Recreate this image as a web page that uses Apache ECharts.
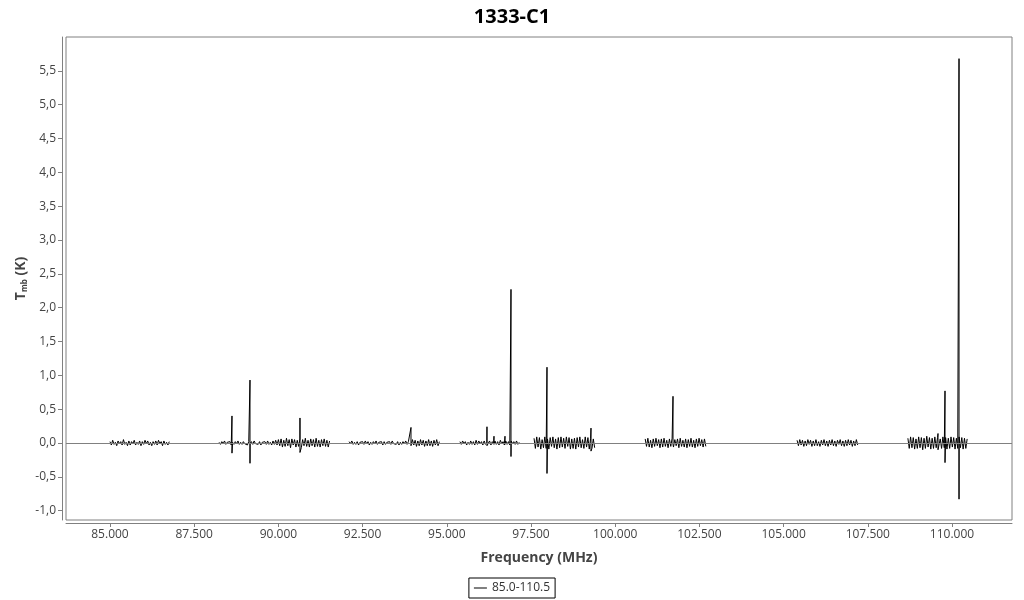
<!DOCTYPE html>
<html>
<head>
<meta charset="utf-8">
<script src="https://cdn.jsdelivr.net/npm/echarts@6/dist/echarts.min.js"></script>
<style>html,body{margin:0;padding:0;background:#fff;}#chart{width:1024px;height:600px;}</style>
</head>
<body>
<div id="chart"></div>
<script>
// Noise bands: start frequency (MHz), channel step (MHz), values (K)
var bandStarts = [85000, 88240, 92100, 95390, 97590, 100890, 105400, 108690];
var channelStep = 40;
var band1 = [0.02,-0.03,0.04,-0.02,0.01,-0.04,0.03,-0.01,0.02,-0.03,0.05,-0.02,0.01,-0.04,0.03,-0.03,0.02,-0.01,0.04,-0.03,0.01,-0.02,0.03,-0.04,0.02,-0.02,0.04,-0.01,0.03,-0.03,0.01,-0.04,0.02,-0.02,0.03,-0.03,0.04,-0.01,0.02,-0.04,0.03,-0.02,0.01,-0.03,0.02];
var band2 = [0.01,-0.02,0.02,-0.01,0.03,-0.02,0.01,-0.01,0.02,-0.03,0.01,-0.02,0.02,-0.01,0.03,-0.02,0.01,-0.02,0.02,-0.01,0.01,-0.03,0.02,-0.01,0.02,-0.02,0.03,-0.01,0.01,-0.02,0.02,-0.03,0.01,-0.01,0.02,-0.02,0.03,-0.02,0.01,-0.03,0.03,-0.02,0.04,-0.03,
  0.05,-0.04,0.06,-0.06,0.04,-0.05,0.07,-0.04,0.05,-0.07,0.06,-0.03,0.05,-0.06,0.04,-0.05,0.06,-0.07,0.05,-0.04,0.07,-0.05,0.04,-0.06,0.06,-0.04,0.05,-0.06,0.07,-0.05,0.04,-0.06,0.05,-0.04,0.06,-0.05,0.04,-0.06,0.03];
var band3 = [0.02,-0.01,0.03,-0.02,0.01,-0.02,0.02,-0.03,0.01,-0.01,0.02,-0.02,0.03,-0.01,0.02,-0.03,0.01,-0.02,0.02,-0.01,0.03,-0.02,0.01,-0.01,0.02,-0.03,0.02,-0.02,0.01,-0.01,0.02,-0.02,0.03,-0.01,0.01,-0.02,0.02,-0.03,0.01,-0.02,0.02,-0.01,0.03,-0.02,0.02,
  0.04,-0.05,0.05,-0.03,0.04,-0.05,0.03,-0.04,0.05,-0.03,0.04,-0.05,0.03,-0.04,0.05,-0.04,0.03,-0.05,0.04,-0.03,0.05,-0.04,0.02];
var band4 = [0.02,-0.02,0.03,-0.01,0.02,-0.03,0.01,-0.02,0.03,-0.02,0.02,-0.03,0.04,-0.02,0.03,-0.01,0.02,-0.03,0.03,-0.02,0.01,-0.02,0.03,-0.03,0.02,-0.01,0.03,-0.02,0.02,-0.03,0.04,-0.01,0.02,-0.03,0.03,-0.02,0.02,-0.03,0.03,-0.01,0.02,-0.02,0.03,-0.02,0.01];
var band5 = [0.07,-0.08,0.09,-0.06,0.08,-0.09,0.05,-0.07,0.09,-0.08,0.06,-0.09,0.08,-0.05,0.09,-0.07,0.06,-0.09,0.08,-0.07,0.09,-0.06,0.07,-0.08,0.09,-0.05,0.08,-0.09,0.06,-0.08,0.07,-0.09,0.08,-0.06,0.09,-0.07,0.05,-0.08,0.09,-0.06,0.08,-0.09,0.07,-0.08,0.06,-0.07];
var band6 = [0.06,-0.05,0.07,-0.06,0.04,-0.07,0.06,-0.05,0.07,-0.04,0.05,-0.07,0.06,-0.06,0.07,-0.05,0.04,-0.07,0.06,-0.05,0.07,-0.06,0.05,-0.04,0.06,-0.07,0.07,-0.05,0.04,-0.06,0.06,-0.07,0.05,-0.05,0.07,-0.06,0.04,-0.07,0.06,-0.05,0.07,-0.04,0.05,-0.06,0.06,-0.05];
var band7 = [0.04,-0.04,0.05,-0.03,0.04,-0.05,0.03,-0.04,0.05,-0.02,0.04,-0.05,0.03,-0.04,0.05,-0.04,0.02,-0.05,0.04,-0.03,0.05,-0.04,0.03,-0.05,0.04,-0.03,0.05,-0.04,0.03,-0.05,0.04,-0.02,0.05,-0.04,0.03,-0.05,0.04,-0.04,0.05,-0.03,0.04,-0.05,0.03,-0.04,0.05,-0.03];
var band8 = [0.07,-0.08,0.09,-0.07,0.08,-0.09,0.06,-0.08,0.09,-0.07,0.08,-0.10,0.07,-0.08,0.10,-0.06,0.08,-0.09,0.07,-0.08,0.09,-0.07,0.08,-0.09,0.06,-0.08,0.09,-0.07,0.08,-0.09,0.07,-0.08,0.09,-0.06,0.08,-0.09,0.07,-0.08,0.09,-0.07,0.08,-0.09,0.07,-0.08,0.06];
// Spectral lines (spikes)
var spikeFreq = [88622, 89157, 90641, 93937, 96193, 96401, 96728, 96906, 97975, 99281, 101716, 109584, 109792, 110208];
var spikeHigh = [0.40, 0.93, 0.37, 0.23, 0.24, 0.10, 0.10, 2.27, 1.12, 0.22, 0.69, 0.14, 0.77, 5.68];
var spikeLow  = [-0.15, -0.30, -0.14, -0.04, -0.04, -0.02, -0.02, -0.20, -0.45, -0.12, -0.02, -0.10, -0.29, -0.83];
// Axis ticks
var yTicks = [-1.0, -0.5, 0.0, 0.5, 1.0, 1.5, 2.0, 2.5, 3.0, 3.5, 4.0, 4.5, 5.0, 5.5];
var xTicks = [85000, 87500, 90000, 92500, 95000, 97500, 100000, 102500, 105000, 107500, 110000];

var bands = [band1, band2, band3, band4, band5, band6, band7, band8];
var data = [];
bands.forEach(function (vals, b) {
  var start = bandStarts[b];
  var end = start + (vals.length - 1) * channelStep;
  var pts = [];
  vals.forEach(function (v, i) { pts.push([start + i * channelStep, v, 0]); });
  spikeFreq.forEach(function (f, k) {
    if (f >= start && f <= end) {
      pts.push([f, spikeHigh[k], 1]);
      pts.push([f, spikeLow[k], 2]);
    }
  });
  pts.sort(function (a, b2) { return a[0] - b2[0] || a[2] - b2[2]; });
  pts.forEach(function (p) { data.push([p[0], p[1]]); });
  if (b < bands.length - 1) data.push([end + 1, '-']);
});

var chart = echarts.init(document.getElementById('chart'), null, {renderer: 'canvas'});
var axisGrey = '#808080';
chart.setOption({
  animation: false,
  backgroundColor: '#fff',
  title: {
    text: '1333-C1', left: 'center', top: 2,
    textStyle: {fontFamily: 'Open Sans', fontWeight: 'bold', fontSize: 20, color: '#000'}
  },
  legend: {
    bottom: 2, left: 'center',
    borderColor: '#000', borderWidth: 1, padding: [4, 5],
    itemWidth: 13, itemHeight: 1, itemGap: 5, icon: 'rect',
    textStyle: {fontFamily: 'Open Sans', fontSize: 12, color: '#333'},
    data: ['85.0-110.5']
  },
  grid: {
    left: 66, right: 12, top: 37, bottom: 80,
    show: true, borderColor: axisGrey, borderWidth: 1, backgroundColor: 'transparent'
  },
  xAxis: {
    type: 'value', min: 83694, max: 111781, offset: 3,
    name: 'Frequency (MHz)', nameLocation: 'middle', nameGap: 28, nameMoveOverlap: false,
    nameTextStyle: {fontFamily: 'Open Sans', fontWeight: 'bold', fontSize: 14, color: '#444'},
    axisLine: {show: true, onZero: false, lineStyle: {color: axisGrey}},
    axisTick: {show: true, length: 4, lineStyle: {color: axisGrey}, customValues: xTicks},
    axisLabel: {
      customValues: xTicks, margin: 6,
      fontFamily: 'Open Sans', fontSize: 12, color: '#444',
      formatter: function (v) { return (v / 1000).toFixed(3); }
    },
    splitLine: {show: false}
  },
  yAxis: {
    type: 'value', min: -1.138, max: 6.0, offset: 4,
    name: '{b|T}{s|mb}{b| (K)}', nameLocation: 'middle', nameGap: 33, nameRotate: 90, nameMoveOverlap: false,
    nameTextStyle: {
      rich: {
        b: {fontFamily: 'Open Sans', fontWeight: 'bold', fontSize: 14, color: '#444'},
        s: {fontFamily: 'Open Sans', fontWeight: 'bold', fontSize: 8, color: '#444', verticalAlign: 'bottom', padding: [7, 0, 0, 0]}
      }
    },
    axisLine: {show: true, onZero: false, lineStyle: {color: axisGrey}},
    axisTick: {show: true, length: 4, lineStyle: {color: axisGrey}, customValues: yTicks},
    axisLabel: {
      customValues: yTicks, margin: 6,
      fontFamily: 'Open Sans', fontSize: 12, color: '#444',
      formatter: function (v) { return v.toFixed(1).replace('.', ','); }
    },
    splitLine: {show: false}
  },
  series: [{
    name: '85.0-110.5', type: 'line', data: data,
    symbol: 'none', showSymbol: false, connectNulls: false, sampling: null,
    lineStyle: {color: '#000', width: 1},
    itemStyle: {color: '#000'},
    markLine: {
      silent: true, symbol: 'none', label: {show: false},
      lineStyle: {color: axisGrey, width: 1, type: 'solid'},
      data: [{yAxis: 0}]
    },
    z: 3
  }]
});
</script>
</body>
</html>
